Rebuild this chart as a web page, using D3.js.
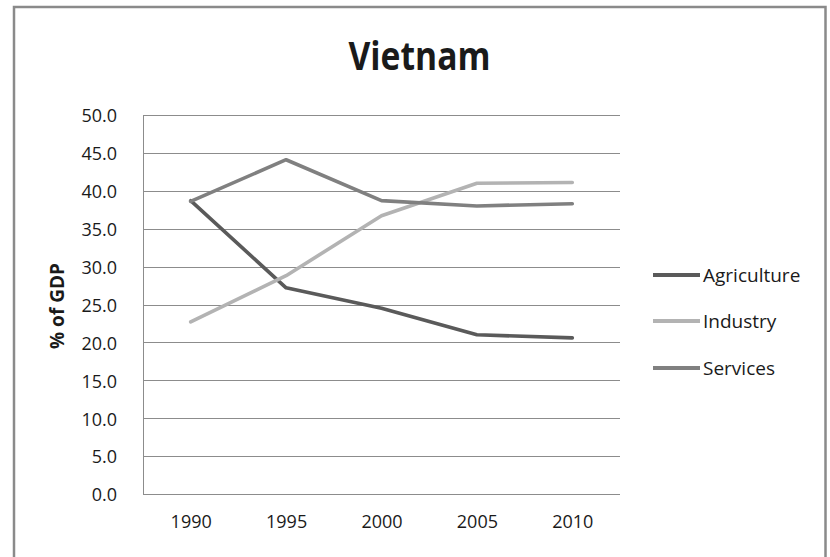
<!DOCTYPE html>
<html>
<head>
<meta charset="utf-8">
<script src="https://cdn.jsdelivr.net/npm/d3@7"></script>
<style>
  html, body { margin: 0; padding: 0; background: #fff; }
  svg { display: block; }
  text { font-family: "Open Sans", sans-serif; fill: #1a1a1a; }
</style>
</head>
<body>
<svg id="chart" width="830" height="557"></svg>
<script>
const years = ["1990", "1995", "2000", "2005", "2010"];
const agriculture = [38.7, 27.2, 24.5, 21.0, 20.6];
const industry = [22.7, 28.8, 36.7, 41.0, 41.1];
const services = [38.6, 44.1, 38.7, 38.0, 38.3];
const seriesNames = ["Agriculture", "Industry", "Services"];
const seriesColors = ["#5a5a5a", "#b3b3b3", "#808080"];
const yTicks = [0, 5, 10, 15, 20, 25, 30, 35, 40, 45, 50];
const title = "Vietnam";
const yTitle = "% of GDP";

const svg = d3.select("#chart");

// outer border (bottom runs off the picture)
svg.append("rect")
  .attr("x", 14).attr("y", 7)
  .attr("width", 811.5).attr("height", 620)
  .attr("fill", "none").attr("stroke", "#8a8a8a").attr("stroke-width", 2.5);

const plot = { left: 143, right: 620, top: 115, bottom: 494 };
const x = d3.scalePoint().domain(years).range([plot.left, plot.right]).padding(0.5);
const y = d3.scaleLinear().domain([0, 50]).range([plot.bottom, plot.top]);

// gridlines
svg.append("g").selectAll("line").data(yTicks.filter(d => d > 0)).join("line")
  .attr("x1", plot.left).attr("x2", plot.right)
  .attr("y1", d => Math.round(y(d)) + 0.5).attr("y2", d => Math.round(y(d)) + 0.5)
  .attr("stroke", "#8c8c8c").attr("stroke-width", 1);

// axis lines
svg.append("line").attr("x1", plot.left + 0.5).attr("x2", plot.left + 0.5)
  .attr("y1", plot.top).attr("y2", plot.bottom + 0.5)
  .attr("stroke", "#8c8c8c").attr("stroke-width", 1);
svg.append("line").attr("x1", plot.left).attr("x2", plot.right)
  .attr("y1", plot.bottom + 0.5).attr("y2", plot.bottom + 0.5)
  .attr("stroke", "#8c8c8c").attr("stroke-width", 1);

// y axis labels
const yAxis = svg.append("g").attr("transform", `translate(${plot.left},0)`)
  .call(d3.axisLeft(y).tickValues(yTicks).tickFormat(d3.format(".1f")).tickSize(0).tickPadding(26));
yAxis.select(".domain").remove();
yAxis.selectAll("text").attr("font-family", "Open Sans").attr("font-size", 18).attr("fill", "#1a1a1a").attr("dy", "0.38em");

// x axis labels
const xAxis = svg.append("g").attr("transform", `translate(0,${plot.bottom})`)
  .call(d3.axisBottom(x).tickSize(0).tickPadding(21));
xAxis.select(".domain").remove();
xAxis.selectAll("text").attr("font-family", "Open Sans").attr("font-size", 18).attr("fill", "#1a1a1a");

// lines
const allSeries = [agriculture, industry, services];
const line = d3.line().x((d, i) => x(years[i])).y(d => y(d));
allSeries.forEach((vals, k) => {
  svg.append("path").datum(vals)
    .attr("d", line)
    .attr("fill", "none")
    .attr("stroke", seriesColors[k])
    .attr("stroke-width", 3.6)
    .attr("stroke-linejoin", "round")
    .attr("stroke-linecap", "round");
});

// title
svg.append("text")
  .attr("x", 419.5).attr("y", 70)
  .attr("text-anchor", "middle")
  .attr("font-family", "Liberation Sans Narrow")
  .attr("font-weight", "bold")
  .attr("font-size", 39)
  .attr("textLength", 142).attr("lengthAdjust", "spacingAndGlyphs")
  .attr("fill", "#000")
  .text(title);

// y title
svg.append("text")
  .attr("transform", "translate(64,306) rotate(-90)")
  .attr("text-anchor", "middle")
  .attr("font-family", "Open Sans")
  .attr("font-weight", "bold")
  .attr("font-size", 19)
  .attr("fill", "#000")
  .text(yTitle);

// legend
const legendY = [275, 321, 368];
const lg = svg.append("g");
seriesNames.forEach((name, k) => {
  lg.append("line").attr("x1", 653).attr("x2", 700)
    .attr("y1", legendY[k]).attr("y2", legendY[k])
    .attr("stroke", seriesColors[k]).attr("stroke-width", 4);
  lg.append("text").attr("x", 703).attr("y", legendY[k])
    .attr("dy", "0.38em")
    .attr("font-family", "Open Sans").attr("font-size", 19).attr("fill", "#1a1a1a")
    .text(name);
});
</script>
</body>
</html>
